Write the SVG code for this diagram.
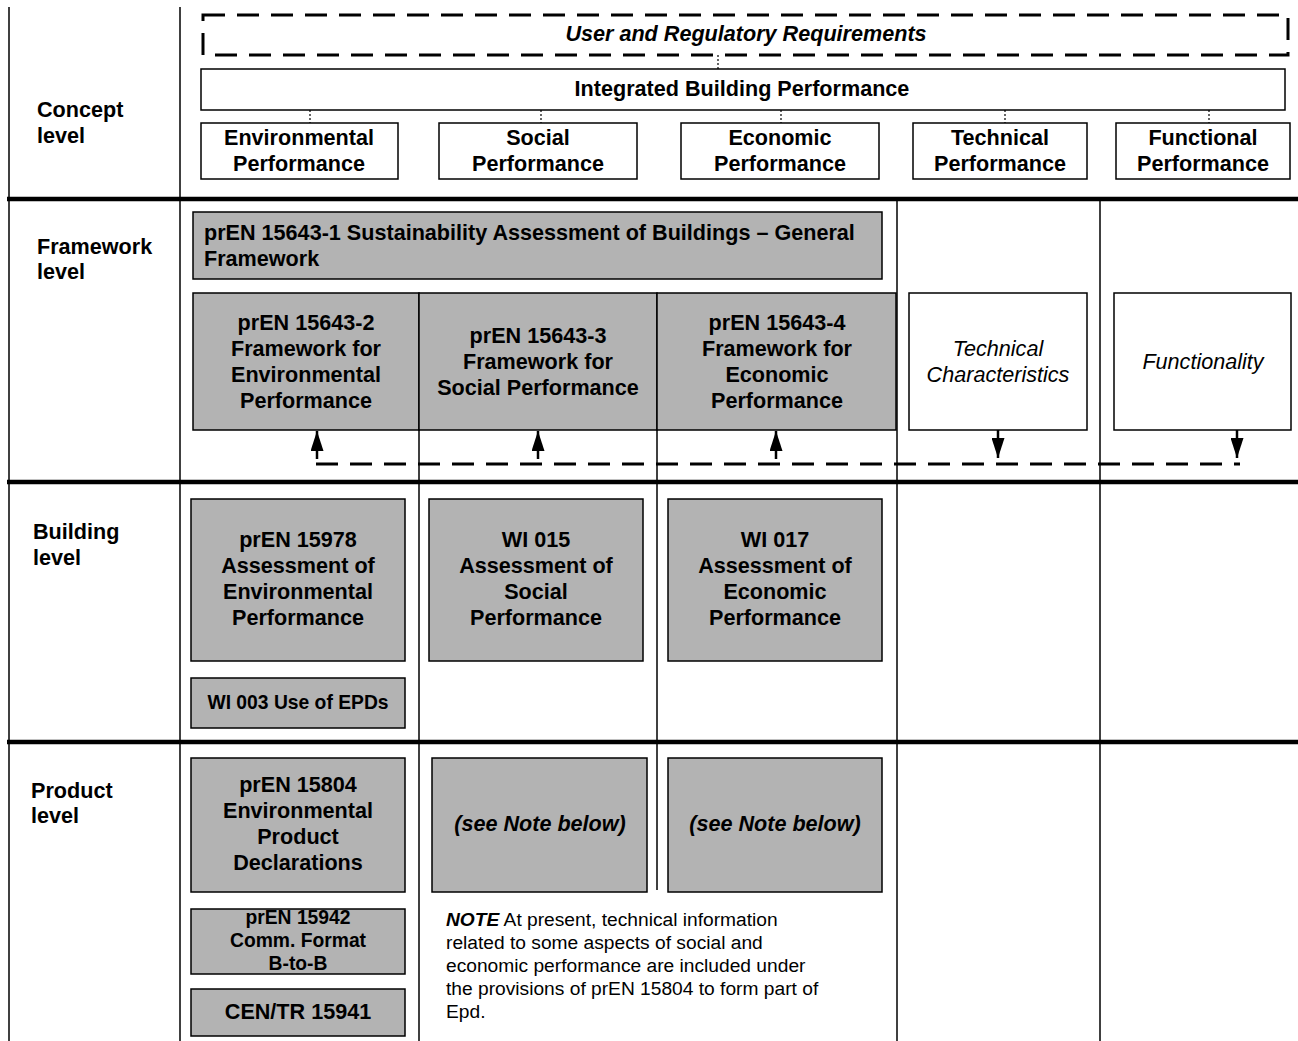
<svg xmlns="http://www.w3.org/2000/svg" width="1298" height="1041" viewBox="0 0 1298 1041">
<defs>
<style>
text{font-family:"Liberation Sans",Arial,sans-serif;fill:#000}
.b{font-weight:bold;font-size:21.6px}
.bm{font-weight:bold;font-size:19.3px}
.it{font-style:italic;font-size:21.6px}
.bi{font-weight:bold;font-style:italic;font-size:21.6px}
.n{font-size:19.2px}
.c{text-anchor:middle}
.w{fill:#fff;stroke:#000;stroke-width:1.5}
.g{fill:#b3b3b3;stroke:#000;stroke-width:1.5}
.grid{stroke:#000;stroke-width:1.5;fill:none}
.thick{stroke:#000;stroke-width:4.5;fill:none}
.dash{stroke:#000;stroke-width:3;fill:none;stroke-dasharray:22 12}
.dot{stroke:#000;stroke-width:1.2;stroke-dasharray:2 2;fill:none}
.arr{stroke:#000;stroke-width:2.5;fill:none}
</style>
<marker id="ah" markerWidth="20" markerHeight="13" refX="20" refY="6.5" orient="auto" markerUnits="userSpaceOnUse" viewBox="0 0 20 13">
<path d="M0,0 L20,6.5 L0,13 Z" fill="#000"/>
</marker>
</defs>
<rect x="0" y="0" width="1298" height="1041" fill="#fff"/>

<g id="grid">
<line class="grid" x1="9" y1="7" x2="9" y2="1041"/>
<line class="grid" x1="180" y1="7" x2="180" y2="1041"/>
<line class="grid" x1="897" y1="199" x2="897" y2="1041"/>
<line class="grid" x1="1100" y1="199" x2="1100" y2="1041"/>
<line class="grid" x1="419" y1="430" x2="419" y2="1041"/>
<line class="grid" x1="657" y1="430" x2="657" y2="890"/>
<line class="thick" x1="7" y1="199" x2="1298" y2="199"/>
<line class="thick" x1="7" y1="482" x2="1298" y2="482"/>
<line class="thick" x1="7" y1="742" x2="1298" y2="742"/>
</g>

<g id="level-labels">
<text class="b" x="37" y="117">Concept</text>
<text class="b" x="37" y="143">level</text>
<text class="b" x="37" y="254">Framework</text>
<text class="b" x="37" y="279">level</text>
<text class="b" x="33" y="539">Building</text>
<text class="b" x="33" y="565">level</text>
<text class="b" x="31" y="798">Product</text>
<text class="b" x="31" y="823">level</text>
</g>

<g id="user-req">
<rect x="203" y="15" width="1085" height="40" fill="none" stroke="#000" stroke-width="3" stroke-dasharray="22 12"/>
<text class="bi c" x="746" y="41">User and Regulatory Requirements</text>
</g>

<g id="integrated">
<rect class="w" x="201" y="69" width="1084" height="41"/>
<text class="b c" x="742" y="96">Integrated Building Performance</text>
</g>

<g id="env-perf">
<rect class="w" x="201" y="123" width="197" height="56"/>
<text class="b c" x="299" y="145">Environmental</text>
<text class="b c" x="299" y="171">Performance</text>
</g>
<g id="soc-perf">
<rect class="w" x="439" y="123" width="198" height="56"/>
<text class="b c" x="538" y="145">Social</text>
<text class="b c" x="538" y="171">Performance</text>
</g>
<g id="eco-perf">
<rect class="w" x="681" y="123" width="198" height="56"/>
<text class="b c" x="780" y="145">Economic</text>
<text class="b c" x="780" y="171">Performance</text>
</g>
<g id="tech-perf">
<rect class="w" x="913" y="123" width="174" height="56"/>
<text class="b c" x="1000" y="145">Technical</text>
<text class="b c" x="1000" y="171">Performance</text>
</g>
<g id="func-perf">
<rect class="w" x="1116" y="123" width="174" height="56"/>
<text class="b c" x="1203" y="145">Functional</text>
<text class="b c" x="1203" y="171">Performance</text>
</g>

<g id="pren15643-1">
<rect class="g" x="193" y="212" width="689" height="67"/>
<text class="b" x="204" y="240">prEN 15643-1 Sustainability Assessment of Buildings – General</text>
<text class="b" x="204" y="266">Framework</text>
</g>
<g id="pren15643-2">
<rect class="g" x="193" y="293" width="226" height="137"/>
<text class="b c" x="306" y="330">prEN 15643-2</text>
<text class="b c" x="306" y="356">Framework for</text>
<text class="b c" x="306" y="382">Environmental</text>
<text class="b c" x="306" y="408">Performance</text>
</g>
<g id="pren15643-3">
<rect class="g" x="419" y="293" width="238" height="137"/>
<text class="b c" x="538" y="343">prEN 15643-3</text>
<text class="b c" x="538" y="369">Framework for</text>
<text class="b c" x="538" y="395">Social Performance</text>
</g>
<g id="pren15643-4">
<rect class="g" x="657" y="293" width="239" height="137"/>
<text class="b c" x="777" y="330">prEN 15643-4</text>
<text class="b c" x="777" y="356">Framework for</text>
<text class="b c" x="777" y="382">Economic</text>
<text class="b c" x="777" y="408">Performance</text>
</g>
<g id="tech-char">
<rect class="w" x="909" y="293" width="178" height="137"/>
<text class="it c" x="998" y="356">Technical</text>
<text class="it c" x="998" y="382">Characteristics</text>
</g>
<g id="functionality">
<rect class="w" x="1114" y="293" width="177" height="137"/>
<text class="it c" x="1203" y="369">Functionality</text>
</g>

<g id="pren15978">
<rect class="g" x="191" y="499" width="214" height="162"/>
<text class="b c" x="298" y="547">prEN 15978</text>
<text class="b c" x="298" y="573">Assessment of</text>
<text class="b c" x="298" y="599">Environmental</text>
<text class="b c" x="298" y="625">Performance</text>
</g>
<g id="wi015">
<rect class="g" x="429" y="499" width="214" height="162"/>
<text class="b c" x="536" y="547">WI 015</text>
<text class="b c" x="536" y="573">Assessment of</text>
<text class="b c" x="536" y="599">Social</text>
<text class="b c" x="536" y="625">Performance</text>
</g>
<g id="wi017">
<rect class="g" x="668" y="499" width="214" height="162"/>
<text class="b c" x="775" y="547">WI 017</text>
<text class="b c" x="775" y="573">Assessment of</text>
<text class="b c" x="775" y="599">Economic</text>
<text class="b c" x="775" y="625">Performance</text>
</g>
<g id="wi003">
<rect class="g" x="191" y="678" width="214" height="50"/>
<text class="bm c" x="298" y="709">WI 003 Use of EPDs</text>
</g>

<g id="pren15804">
<rect class="g" x="191" y="758" width="214" height="134"/>
<text class="b c" x="298" y="792">prEN 15804</text>
<text class="b c" x="298" y="818">Environmental</text>
<text class="b c" x="298" y="844">Product</text>
<text class="b c" x="298" y="870">Declarations</text>
</g>
<g id="note-soc">
<rect class="g" x="432" y="758" width="215" height="134"/>
<text class="bi c" x="540" y="831">(see Note below)</text>
</g>
<g id="note-eco">
<rect class="g" x="668" y="758" width="214" height="134"/>
<text class="bi c" x="775" y="831">(see Note below)</text>
</g>
<g id="pren15942">
<rect class="g" x="191" y="909" width="214" height="65"/>
<text class="bm c" x="298" y="924">prEN 15942</text>
<text class="bm c" x="298" y="947">Comm. Format</text>
<text class="bm c" x="298" y="970">B-to-B</text>
</g>
<g id="centr15941">
<rect class="g" x="191" y="989" width="214" height="47"/>
<text class="b c" x="298" y="1019">CEN/TR 15941</text>
</g>

<g id="note-text">
<text class="n" x="446" y="926"><tspan font-weight="bold" font-style="italic">NOTE</tspan> At present, technical information</text>
<text class="n" x="446" y="949">related to some aspects of social and</text>
<text class="n" x="446" y="972">economic performance are included under</text>
<text class="n" x="446" y="995">the provisions of prEN 15804 to form part of</text>
<text class="n" x="446" y="1018">Epd.</text>
</g>

<g id="connectors">
<line class="dot" x1="718" y1="55" x2="718" y2="69"/>
<line class="dot" x1="310" y1="110" x2="310" y2="123"/>
<line class="dot" x1="541" y1="110" x2="541" y2="123"/>
<line class="dot" x1="781" y1="110" x2="781" y2="123"/>
<line class="dot" x1="1005" y1="110" x2="1005" y2="123"/>
<line class="dot" x1="1209" y1="110" x2="1209" y2="123"/>
<line class="dash" x1="316" y1="464" x2="1240" y2="464"/>
<line class="arr" x1="317" y1="459" x2="317" y2="431" marker-end="url(#ah)"/>
<line class="arr" x1="538" y1="459" x2="538" y2="431" marker-end="url(#ah)"/>
<line class="arr" x1="776" y1="459" x2="776" y2="431" marker-end="url(#ah)"/>
<line class="arr" x1="998" y1="430" x2="998" y2="458" marker-end="url(#ah)"/>
<line class="arr" x1="1237" y1="430" x2="1237" y2="458" marker-end="url(#ah)"/>
</g>
</svg>
